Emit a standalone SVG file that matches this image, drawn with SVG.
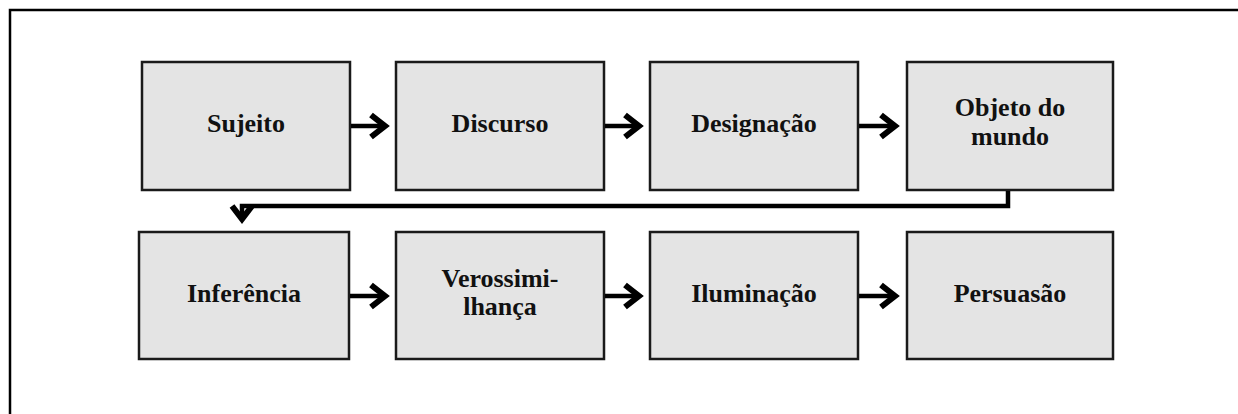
<svg xmlns="http://www.w3.org/2000/svg" width="1238" height="414" viewBox="0 0 1238 414">
<style>
.box{fill:#e4e4e4;stroke:#1a1a1a;stroke-width:2.5}
.lbl{font-family:"Liberation Serif","Times New Roman",serif;font-weight:bold;font-size:26px;fill:#111;text-anchor:middle}
.ln{fill:none;stroke:#000;stroke-width:4.5}
.hd{fill:none;stroke:#000;stroke-width:6;stroke-linejoin:miter;stroke-linecap:butt}
</style>
<rect x="10" y="10" width="1260" height="430" fill="#fff" stroke="#000" stroke-width="2.5"/>
<g id="n1"><rect class="box" x="142" y="62" width="208" height="128"/><text class="lbl" x="246" y="132">Sujeito</text></g>
<g id="n2"><rect class="box" x="396" y="62" width="208" height="128"/><text class="lbl" x="500" y="132">Discurso</text></g>
<g id="n3"><rect class="box" x="650" y="62" width="208" height="128"/><text class="lbl" x="754" y="132">Designação</text></g>
<g id="n4"><rect class="box" x="907" y="62" width="206" height="128"/><text class="lbl" x="1010" y="116">Objeto do</text><text class="lbl" x="1010" y="145">mundo</text></g>
<g id="n5"><rect class="box" x="139" y="232" width="210" height="127"/><text class="lbl" x="244" y="302">Inferência</text></g>
<g id="n6"><rect class="box" x="396" y="232" width="208" height="127"/><text class="lbl" x="500" y="287">Verossimi-</text><text class="lbl" x="500" y="315">lhança</text></g>
<g id="n7"><rect class="box" x="650" y="232" width="208" height="127"/><text class="lbl" x="754" y="302">Iluminação</text></g>
<g id="n8"><rect class="box" x="907" y="232" width="206" height="127"/><text class="lbl" x="1010" y="302">Persuasão</text></g>
<g id="connectors">
<path class="ln" d="M351 126H384"/><path class="hd" d="M371 115L385 126L371 137"/>
<path class="ln" d="M605 126H638"/><path class="hd" d="M625 115L639 126L625 137"/>
<path class="ln" d="M859 126H894"/><path class="hd" d="M881 115L895 126L881 137"/>
<path class="ln" d="M1008 191V206H242V218"/><path class="hd" d="M232 206L242 219L252 206"/>
<path class="ln" d="M350 296H384"/><path class="hd" d="M371 285L385 296L371 307"/>
<path class="ln" d="M605 296H638"/><path class="hd" d="M625 285L639 296L625 307"/>
<path class="ln" d="M859 296H894"/><path class="hd" d="M881 285L895 296L881 307"/>
</g>
</svg>
